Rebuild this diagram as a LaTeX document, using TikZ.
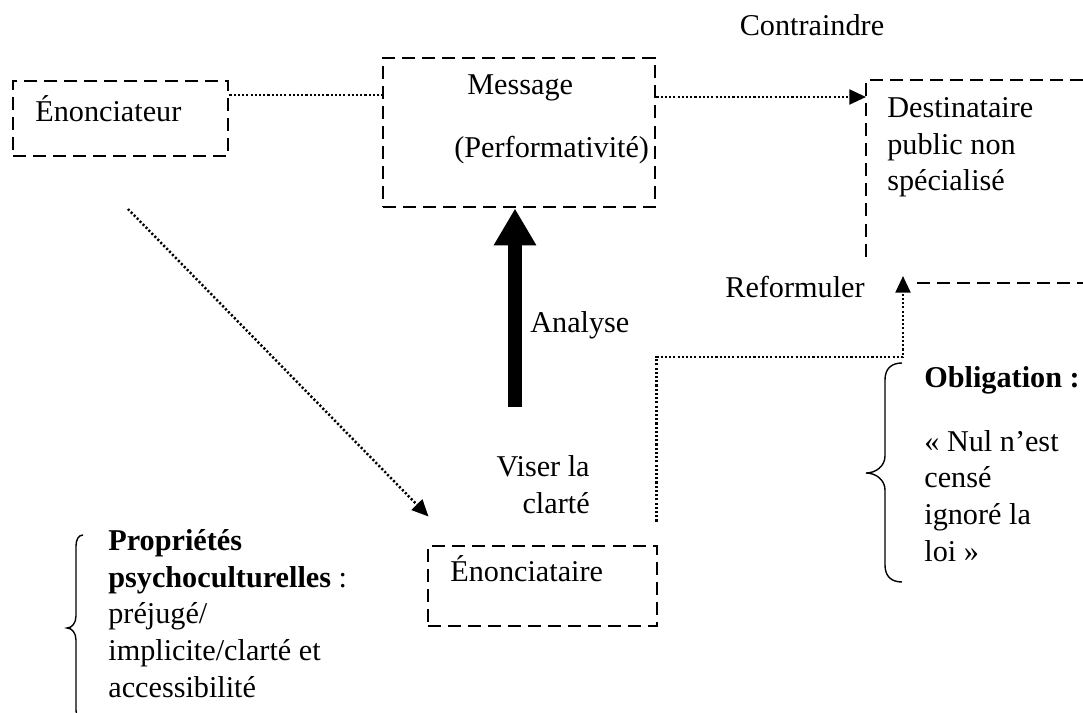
\documentclass[tikz,border=0pt]{standalone}
\usepackage{fontspec}
\setmainfont{Liberation Serif}
\usetikzlibrary{arrows.meta,fit}
\tikzset{
  boite/.style={draw, line width=1.7pt, dash pattern=on 7.4pt off 4pt, inner sep=0pt},
  tirets/.style={line width=1.7pt, dash pattern=on 7.4pt off 4pt},
  points/.style={line width=1.4pt, dash pattern=on 1.2pt off 1.2pt},
  pointe/.style={-{Triangle[length=9.5pt,width=8.5pt]}},
  txt/.style={inner sep=0pt, font=\fontsize{17.2}{20.8}\selectfont},
  accolade/.style={line width=0.8pt},
}
\begin{document}
\begin{tikzpicture}[x=0.02cm, y=-0.02cm]
  \useasboundingbox (0,0) rectangle (1083,713);

  \node[boite, fit={(13,81) (228,156)}] (enc) {};
  \node[txt, anchor=base west] (tenc) at (35,122) {Énonciateur};

  \node[boite, fit={(383,58) (655,207)}] (msg) {};
  \node[txt, anchor=base west] (tmsg) at (467,95) {Message};
  \node[txt, anchor=base west] (tperf) at (454,158) {(Performativité)};

  \draw[tirets] (1083,80) -| (866,257);
  \draw[tirets] (917,283) -- (1083,283);
  \coordinate (dest) at (866,97);
  \node[txt, anchor=base west, align=left] (tdest) at (887,191) {Destinataire\\public non\\spécialisé};
  \node[txt, anchor=base] (contr) at (812,36) {Contraindre};
  \node[txt, anchor=base west] (reform) at (725,297) {Reformuler};

  \node[boite, fit={(428,546) (657,626)}] (enr) {};
  \node[txt, anchor=base west] (tenr) at (450,581) {Énonciataire};

  \coordinate (r1) at (0,95);
  \draw[points] (enc.east |- r1) -- (msg.west |- r1);
  \coordinate (r2) at (0,97);
  \draw[points, pointe] (msg.east |- r2) -- (dest);

  \coordinate (d0) at (128,209);
  \draw[points, pointe] (d0) -- ([shift={(2,-28)}]enr.north west);

  \coordinate (an) at (515,407);
  \draw[line width=8pt, -{Triangle[length=21pt,width=22.8pt]}] (an) -- (an |- msg.south);
  \node[txt, anchor=base west] (anal) at (530,333) {Analyse};
  \node[txt, anchor=base east, align=right] (viser) at (590,513) {Viser la\\clarté};

  \coordinate (coude) at (903,357);
  \coordinate (ref) at (903,276);
  \draw[points, pointe] ([shift={(-2,-23)}]enr.north east) |- (coude) -- (ref);

  \draw[accolade] (83,535) .. controls (79,535) and (76,539) .. (76,546)
    -- (76,616) .. controls (76,623) and (72,628) .. (67,628)
    .. controls (72,628) and (76,633) .. (76,640)
    -- (76,710) .. controls (76,717) and (79,721) .. (83,721);
  \node[txt, anchor=base west, align=left] (prop) at (108,697) {\textbf{Propriétés}\\\textbf{psychoculturelles} :\\préjugé/\\implicite/clarté et\\accessibilité};

  \draw[accolade] (902,363) .. controls (891,363) and (885,369) .. (885,380)
    -- (885,456) .. controls (885,466) and (876,473) .. (866,473)
    .. controls (876,473) and (885,480) .. (885,490)
    -- (885,565) .. controls (885,576) and (891,582) .. (902,582);
  \node[txt, anchor=base west, align=left] (oblig) at (924,561) {\textbf{Obligation :}\\[15.6pt]«~Nul n’est\\censé\\ignoré la\\loi~»};
\end{tikzpicture}
\end{document}
